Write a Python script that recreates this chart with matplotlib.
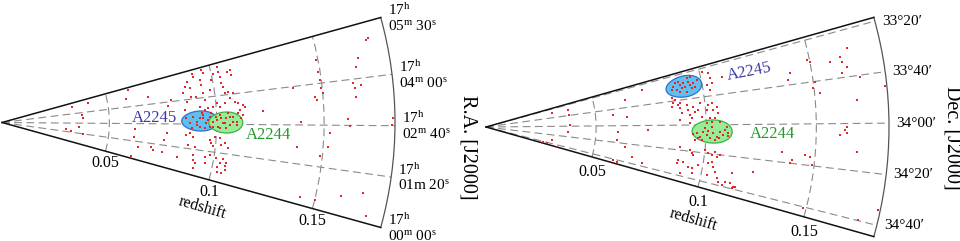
import numpy as np
import matplotlib
matplotlib.use("Agg")
import matplotlib.pyplot as plt
from matplotlib.transforms import offset_copy

plt.rcParams['font.family'] = ['Liberation Serif', 'DejaVu Serif']
plt.rcParams['mathtext.fontset'] = 'custom'
plt.rcParams['mathtext.rm'] = 'Liberation Serif'
plt.rcParams['mathtext.it'] = 'Liberation Serif:italic'

# ---------------- data ----------------
Z_MAX = 0.183
Z_TICKS = [0.05, 0.1, 0.15]
Z_TICK_LABELS = ["0.05", "0.1", "0.15"]

# Left panel: redshift vs RA (seconds after 17h00m00s)
RA_RANGE = [0, 330]
RA_GRID = [80, 160, 240]
RA_LABEL_POS = [330, 240, 160, 80, 0]
RA_LABELS = ["17$^{\\rm h}$\n05$^{\\rm m}$ 30$^{\\rm s}$",
             "17$^{\\rm h}$\n04$^{\\rm m}$ 00$^{\\rm s}$",
             "17$^{\\rm h}$\n02$^{\\rm m}$ 40$^{\\rm s}$",
             "17$^{\\rm h}$\n01m 20$^{\\rm s}$",
             "17$^{\\rm h}$\n00$^{\\rm m}$ 00$^{\\rm s}$"]

left_z = [0.0915, 0.0915, 0.0960, 0.0964, 0.0942, 0.0945, 0.0880, 0.0867, 0.0889, 0.0854,
          0.0890, 0.0865, 0.0913, 0.0946, 0.0950, 0.0979, 0.0995, 0.1009, 0.1032, 0.1033,
          0.1036, 0.1038, 0.1043, 0.1072, 0.1088, 0.1091, 0.1046, 0.1062, 0.1084, 0.1066,
          0.1088, 0.1103, 0.1125, 0.1108, 0.1003, 0.1017, 0.1041, 0.0986, 0.0962, 0.0946,
          0.0924, 0.0937, 0.0921, 0.0890, 0.0874, 0.0906, 0.0960, 0.0983, 0.0999, 0.1022,
          0.1037, 0.1061, 0.1076, 0.1092, 0.1045, 0.1006, 0.0968, 0.0853, 0.0861, 0.0876,
          0.0892, 0.0971, 0.0980, 0.0993, 0.1017, 0.1027, 0.1042, 0.1059, 0.0989, 0.0873,
          0.0905, 0.0715, 0.0755, 0.0902, 0.0958, 0.0979, 0.1012, 0.1043, 0.1062, 0.1032,
          0.1020, 0.1057, 0.0907, 0.0918, 0.0963, 0.0915, 0.1025, 0.1049, 0.1060, 0.0332,
          0.0409, 0.0372, 0.0379, 0.0360, 0.0298, 0.0322, 0.0379, 0.0604, 0.0590, 0.0619,
          0.0616, 0.0644, 0.0619, 0.0705, 0.0759, 0.0768, 0.0796, 0.0777, 0.0828, 0.0691,
          0.1217, 0.1364, 0.1380, 0.1394, 0.1428, 0.1500, 0.1492, 0.1490, 0.1492, 0.1461,
          0.1470, 0.1495, 0.1501, 0.1526, 0.1522, 0.1488, 0.1617, 0.1611, 0.1619, 0.1644,
          0.1650, 0.1670, 0.1684, 0.1654, 0.1682, 0.1713, 0.1739, 0.1748, 0.1819, 0.1814,
          0.1752, 0.1133, 0.1123, 0.0859, 0.0906, 0.0921, 0.0936, 0.0952, 0.0968, 0.0983,
          0.0999, 0.1015, 0.1029, 0.1045, 0.1060, 0.1076, 0.1092, 0.0883, 0.0945, 0.1014,
          0.1053, 0.1100, 0.1115, 0.0930, 0.0976]
left_ra = [317, 308, 322, 311, 294, 278, 298, 283, 275, 262,
           248, 234, 245, 253, 232, 260, 287, 304, 320, 306,
           291, 273, 263, 301, 303, 289, 244, 248, 242, 230,
           219, 215, 209, 197, 219, 209, 217, 211, 207, 202,
           214, 188, 178, 184, 162, 157, 172, 167, 182, 177,
           163, 181, 167, 159, 149, 153, 153, 207, 124, 130,
           120, 114, 105, 124, 121, 103, 108, 96, 96, 92,
           89, 55, 55, 62, 63, 70, 64, 65, 55, 52,
           41, 46, 47, 38, 44, 22, 28, 26, 37, 296,
           304, 222, 197, 127, 100, 87, 79, 319, 279, 134,
           100, 58, 10, 67, 100, 125, 245, 226, 47, 272,
           192, 236, 115, 167, 16, 17, 285, 262, 246, 215,
           209, 230, 220, 145, 120, 100, 34, 172, 158, 233,
           224, 260, 274, 209, 228, 47, 301, 303, 172, 161,
           11, 205, 184, 179, 168, 152, 178, 163, 182, 153,
           172, 186, 163, 176, 158, 180, 167, 146, 148, 149,
           190, 189, 176, 193, 192]

# Right panel: redshift vs Dec (arcmin, 34d00m = 2040)
DEC_RANGE = [1998.5, 2084.5]
DEC_GRID = [2000, 2020, 2040, 2060, 2080]
DEC_LABELS = ["33°20′", "33°40′", "34°00′", "34°20′", "34°40′"]

right_z = [0.0870, 0.0881, 0.0882, 0.0897, 0.0901, 0.0906, 0.0918, 0.0922, 0.0925, 0.0941,
           0.0946, 0.0951, 0.0962, 0.0967, 0.0980, 0.0896, 0.0860, 0.0938, 0.0954, 0.1011,
           0.1039, 0.1041, 0.1020, 0.1044, 0.1031, 0.1095, 0.0727, 0.0867, 0.0857, 0.0848,
           0.0879, 0.0885, 0.0891, 0.0917, 0.0922, 0.0928, 0.0946, 0.0952, 0.0967, 0.0935,
           0.0981, 0.1005, 0.1015, 0.1031, 0.1035, 0.1052, 0.1057, 0.1041, 0.1018, 0.1002,
           0.1025, 0.1063, 0.0978, 0.0957, 0.0973, 0.0987, 0.1003, 0.1019, 0.1033, 0.1049,
           0.1063, 0.1078, 0.0981, 0.0951, 0.0995, 0.1042, 0.1085, 0.0964, 0.1008, 0.1059,
           0.1100, 0.0940, 0.1026, 0.1093, 0.1101, 0.0886, 0.0932, 0.0942, 0.1000, 0.1017,
           0.1033, 0.1046, 0.1056, 0.1070, 0.0882, 0.0910, 0.1023, 0.1037, 0.1048, 0.0980,
           0.0953, 0.0957, 0.1026, 0.1060, 0.1073, 0.1084, 0.1102, 0.1114, 0.1137, 0.1155,
           0.1135, 0.1231, 0.0726, 0.0305, 0.0382, 0.0382, 0.0382, 0.0269, 0.0285, 0.0304,
           0.0333, 0.0374, 0.0643, 0.0581, 0.0641, 0.0601, 0.0596, 0.0638, 0.0597, 0.0614,
           0.0675, 0.0737, 0.0853, 0.0888, 0.0882, 0.0927, 0.0886, 0.0950, 0.0936, 0.0906,
           0.1150, 0.1163, 0.1402, 0.1389, 0.1391, 0.1396, 0.1488, 0.1501, 0.1454, 0.1478,
           0.1489, 0.1497, 0.1508, 0.1525, 0.1590, 0.1639, 0.1642, 0.1634, 0.1677, 0.1661,
           0.1638, 0.1630, 0.1638, 0.1608, 0.1688, 0.1687, 0.1714, 0.1822, 0.1743, 0.1488,
           0.1820, 0.1347]
right_dec = [2008.4, 2006.0, 2011.6, 2005.4, 2008.2, 2011.0, 2007.5, 2010.3, 2014.3, 2007.1,
             2009.8, 2012.5, 2009.0, 2011.7, 2007.2, 2013.4, 2010.8, 2004.3, 2003.8, 2002.3,
             2004.5, 2008.1, 2012.1, 2011.6, 2016.0, 2008.7, 2005.1, 2019.3, 2021.9, 2024.5,
             2023.7, 2026.5, 2030.6, 2024.4, 2028.4, 2032.3, 2026.3, 2030.1, 2029.0, 2034.9,
             2034.1, 2029.5, 2026.1, 2025.2, 2029.8, 2027.8, 2032.3, 2035.6, 2035.4, 2038.9,
             2037.8, 2038.0, 2024.3, 2046.2, 2048.6, 2044.9, 2047.2, 2049.4, 2045.8, 2048.1,
             2044.6, 2046.8, 2050.9, 2051.2, 2042.2, 2050.4, 2043.5, 2049.6, 2044.3, 2048.9,
             2047.3, 2046.8, 2041.5, 2041.3, 2045.6, 2057.3, 2059.0, 2061.4, 2057.8, 2059.9,
             2060.8, 2058.3, 2061.5, 2060.1, 2070.9, 2068.7, 2066.8, 2065.3, 2068.5, 2069.2,
             2072.4, 2076.1, 2074.9, 2071.6, 2075.7, 2077.6, 2079.2, 2076.6, 2076.9, 2078.5,
             2070.6, 2067.4, 2077.3, 2009.4, 2009.7, 2019.2, 2037.8, 2080.7, 2082.5, 2072.0,
             2083.9, 2050.4, 2011.6, 2026.8, 2030.1, 2047.0, 2057.0, 2063.5, 2081.1, 2082.0,
             2072.9, 2044.4, 2017.5, 2022.5, 2035.9, 2038.7, 2068.0, 2062.5, 2071.7, 2078.1,
             2079.7, 2078.2, 2014.2, 2017.4, 2060.1, 2058.3, 2009.3, 2010.5, 2055.2, 2055.8,
             2059.6, 2023.1, 2020.1, 2025.8, 2012.2, 2010.9, 2013.2, 2018.1, 2008.0, 2015.6,
             2041.4, 2042.8, 2044.2, 2045.0, 2030.1, 2051.9, 2020.6, 2025.5, 2079.7, 2080.7,
             2074.1, 2054.5]

# cluster ellipses: name, centre z, centre angle coord, half-size z, half-size angle coord
left_clusters = [("A2245", 0.0921, 169.6, 0.0084, 30.8),
                 ("A2244", 0.1042, 165.0, 0.0079, 28.6)]
right_clusters = [("A2245", 0.0917, 2010.0, 0.0082, 8.1),
                  ("A2244", 0.1027, 2044.6, 0.0091, 7.95)]
# cluster name label positions (z, angle coord)
left_cluster_labels = [("A2245", 0.0712, 183.0), ("A2244", 0.1243, 136.5)]
right_cluster_labels = [("A2245", 0.1220, 2009.3), ("A2244", 0.1299, 2045.3)]

# ---------------- style ----------------
DOT = '#e3262b'
FILL = {"A2245": '#5fc0ef', "A2244": '#98ec98'}
EDGE = {"A2245": '#2f6fc8', "A2244": '#3cb043'}
TXT = {"A2245": '#3a3aa6', "A2244": '#22992a'}
GRID_KW = dict(color='#8a8a8a', lw=0.8, ls=(0, (7, 4)))


def ra_theta(ra):
    return np.radians((np.asarray(ra, float) - 165.0) * 0.0939)


def dec_theta(dec):
    return np.radians((2041.5 - np.asarray(dec, float)) * 0.367)


fig = plt.figure(figsize=(9.6, 2.41), dpi=100)
W, H = 960.0, 241.0


def make_ax(apex_x, apex_y, rpx):
    # matplotlib pads a truncated polar wedge to a square box
    ax = fig.add_axes([apex_x / W, (H - apex_y - rpx / 2) / H, rpx / W, rpx / H],
                      projection='polar')
    return ax


def setup(ax, tfun, trange, tgrid):
    t0, t1 = sorted([float(tfun(trange[0])), float(tfun(trange[1]))])
    ax.set_thetamin(np.degrees(t0))
    ax.set_thetamax(np.degrees(t1))
    ax.set_rlim(0, Z_MAX)
    ax.set_xticks(tfun(tgrid))
    ax.set_yticks(Z_TICKS)
    ax.set_xticklabels([])
    ax.set_yticklabels([])
    ax.tick_params(length=0)
    ax.grid(True, **GRID_KW)
    ax.spines['polar'].set_color('#555555')
    ax.spines['polar'].set_linewidth(0.9)
    for s in ('start', 'end'):
        ax.spines[s].set_color('#111111')
        ax.spines[s].set_linewidth(1.1)
    ax.spines['inner'].set_visible(False)
    ax.set_facecolor('white')


def draw_clusters(ax, tfun, clusters, labels, rot):
    t = np.linspace(0, 2 * np.pi, 200)
    for name, zc, ac, dz, da in clusters:
        zz = zc + dz * np.cos(t)
        aa = ac + da * np.sin(t)
        ax.fill(tfun(aa), zz, facecolor=FILL[name], edgecolor=EDGE[name], lw=0.9, zorder=2)
    for (name, zl, al), r in zip(labels, rot):
        ax.text(tfun(al), zl, name, color=TXT[name], fontsize=12, ha='center', va='center',
                rotation=r, zorder=5)


def radial_labels(ax, tmin, dy_px, red_dx, red_dy, rot):
    for zt, lab in zip(Z_TICKS, Z_TICK_LABELS):
        tr = offset_copy(ax.transData, fig=fig, x=0, y=-dy_px * 0.72, units='points')
        ax.text(tmin, zt, lab, transform=tr, ha='center', va='center', fontsize=11.5,
                clip_on=False)
    tr = offset_copy(ax.transData, fig=fig, x=red_dx * 0.72, y=-red_dy * 0.72, units='points')
    ax.text(tmin, 0.1, "redshift", transform=tr, ha='center', va='center', fontsize=11.5,
            rotation=rot, rotation_mode='anchor', clip_on=False)


def theta_labels(ax, thetas, labels, dx_px):
    tr = offset_copy(ax.transData, fig=fig, x=dx_px * 0.72, y=0, units='points')
    for th, lab in zip(thetas, labels):
        ax.text(th, Z_MAX, lab, transform=tr, ha='left', va='center', fontsize=11,
                multialignment='left', linespacing=1.05, clip_on=False)


# ---- left panel ----
axL = make_ax(2, 122.5, 393)
setup(axL, ra_theta, RA_RANGE, RA_GRID)
draw_clusters(axL, ra_theta, left_clusters, left_cluster_labels, [0, 0])
axL.scatter(ra_theta(left_ra), left_z, s=3.5, marker='s', color=DOT, linewidths=0, zorder=4)
radial_labels(axL, ra_theta(RA_RANGE[0]), 12, -7, 28, -16)
theta_labels(axL, ra_theta(RA_LABEL_POS), RA_LABELS, 7)

# ---- right panel ----
axR = make_ax(486, 127, 403)
setup(axR, dec_theta, DEC_RANGE, DEC_GRID)
draw_clusters(axR, dec_theta, right_clusters, right_cluster_labels, [11, 0])
axR.scatter(dec_theta(right_dec), right_z, s=3.5, marker='s', color=DOT, linewidths=0, zorder=4)
radial_labels(axR, dec_theta(DEC_RANGE[1]), 15, -5, 33, -16)
theta_labels(axR, dec_theta(DEC_GRID), DEC_LABELS, 7)

fig.text(468 / W, 1 - 147 / H, "R.A. [J2000]", rotation=270, ha='center', va='center',
         fontsize=14.5)
fig.text(952 / W, 1 - 138 / H, "Dec. [J2000]", rotation=270, ha='center', va='center',
         fontsize=14.5)

fig.savefig("out.png", dpi=100)
